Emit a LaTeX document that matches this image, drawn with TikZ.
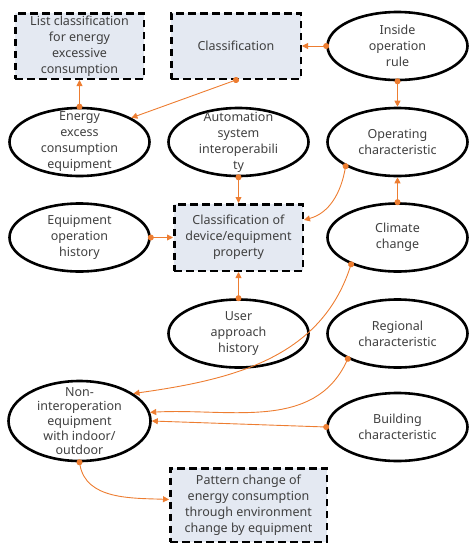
\documentclass[tikz,border=0pt]{standalone}
\usepackage{fontspec}
\setmainfont{Noto Sans}
\usepackage{tikz}
\usetikzlibrary{shapes.geometric, positioning, arrows.meta}

\definecolor{boxfill}{RGB}{228,233,242}
\definecolor{linkcol}{RGB}{237,125,49}
\definecolor{txtcol}{RGB}{64,64,64}

\begin{document}
\begin{tikzpicture}
    \tikzstyle{oval}=[ellipse, draw=black, line width=2.6pt, minimum width=140pt, minimum height=68pt, inner xsep=0pt, inner ysep=-12pt, align=center, text=txtcol, font=\fontsize{12.5pt}{16pt}\selectfont]
    \tikzstyle{box}=[rectangle, draw=black, line width=2.5pt, dash pattern=on 7.5pt off 4.5pt, fill=boxfill, minimum width=128.5pt, minimum height=65.5pt, inner sep=2pt, align=center, text=txtcol, font=\fontsize{12.5pt}{16pt}\selectfont]
    \tikzstyle{link}=[draw=linkcol, line width=0.9pt, {Circle[length=6pt]}-{Triangle[length=6pt,width=6pt]}, shorten <=-3pt]
    \tikzset{node distance=159pt, auto}
    \useasboundingbox (0,0) rectangle (469pt,-544pt);

    \node[box] (b1) at (79.5pt,-46pt) {List classification\\for energy\\excessive\\consumption};
    \node[box, right of=b1, xshift=-2.5pt, minimum width=129.5pt] (b2) {Classification};
    \node[oval, right of=b2, xshift=2.5pt] (e1) {Inside\\operation\\rule};
    \node[oval, node distance=96pt, below of=b1] (e2) {Energy\\excess\\consumption\\equipment};
    \node[oval, right of=e2] (e3) {Automation\\system\\interoperabili\\ty};
    \node[oval, right of=e3] (e4) {Operating\\characteristic};
    \node[box, node distance=95.5pt, below of=e3, minimum height=66.5pt] (b3) {Classification of\\device/equipment\\property};
    \node[oval, left of=b3] (e5) {Equipment\\operation\\history};
    \node[oval, right of=b3] (e6) {Climate\\change};
    \node[oval, node distance=96pt, below of=b3] (e7) {User\\approach\\history};
    \node[oval, right of=e7] (e8) {Regional\\characteristic};
    \node[oval, node distance=183.5pt, below of=e5, minimum width=142pt, minimum height=80pt, font=\fontsize{12.5pt}{14.6pt}\selectfont] (e9) {Non-\\interoperation\\equipment\\with indoor/\\outdoor};
    \node[oval, node distance=93.5pt, below of=e8] (e10) {Building\\characteristic};
    \node[box, node distance=171.5pt, below of=e7, xshift=10pt, minimum width=156.5pt, minimum height=73.5pt] (b4) {Pattern change of\\energy consumption\\through environment\\change by equipment};

    \draw[link] (e1.west) -- (b2.east);
    \draw[link] (e1.south) -- (e4.north);
    \draw[link] (b2.south) -- (e2.25);
    \draw[link] (e2.north) -- (b1.south);
    \draw[link] (e3.south) -- (b3.north);
    \draw[link] (e4.205) to[out=-100, in=15] (b3.15);
    \draw[link] (e5.east) -- (b3.west);
    \draw[link] (e7.north) -- (b3.south);
    \draw[link] (e6.north) -- (e4.south);
    \draw[link] (e6.210) to[out=-108, in=8] (e9.27);
    \draw[link] (e8.207) to[out=-115, in=3] (e9.7);
    \draw[link] (e10.west) -- (e9.east);
    \draw[link] (e9.south) to[out=-80, in=178] (b4.176);
\end{tikzpicture}
\end{document}
